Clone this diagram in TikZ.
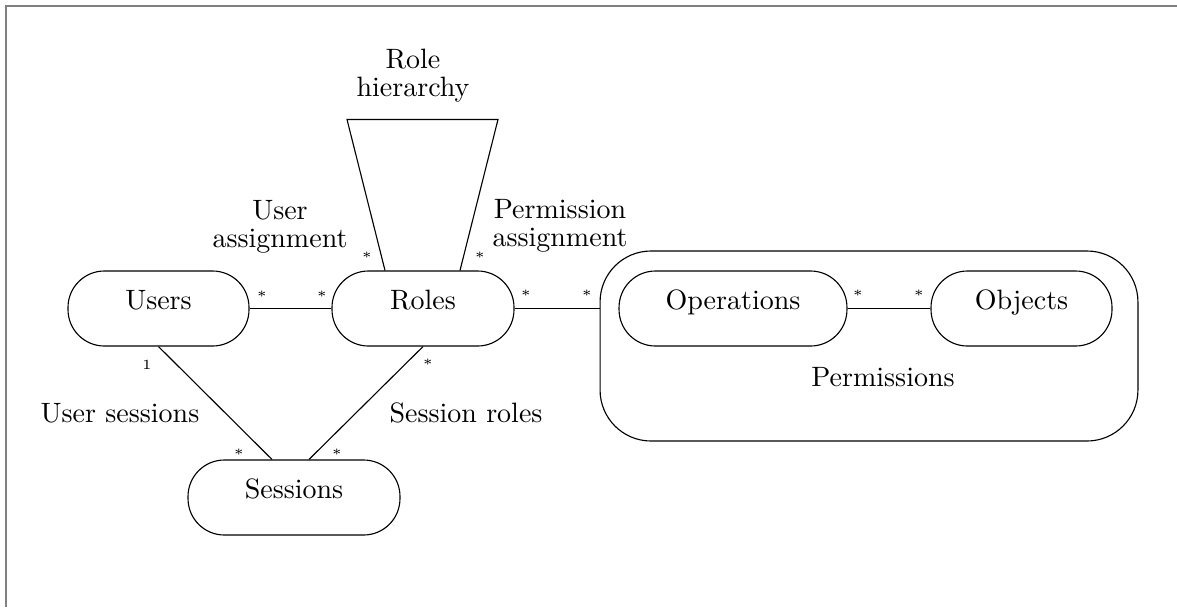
\documentclass[tikz,border=0pt]{standalone}
\usetikzlibrary{calc}
\begin{document}
\begin{tikzpicture}[x=0.35714pt,y=-0.35714pt,
  box/.style={draw, rounded corners=13pt, text height=7pt, text depth=6pt, inner sep=0pt, minimum height=26.79pt},
  lbl/.style={font=\fontsize{10}{10}\selectfont, align=center, anchor=base, inner sep=0pt},
  mult/.style={font=\tiny, inner sep=0pt},
  frame/.style={gray, line width=0.7pt}]
\useasboundingbox (0,0) rectangle (1177,607);
\coordinate (ftr) at (1177,6);
\coordinate (ftl) at (6,6);
\coordinate (fbl) at (6,607);
\draw[frame] (ftr) -- (ftl) -- (fbl);

% outer permissions box
\node[draw, rounded corners=18.2pt, minimum width=192.1pt, minimum height=67.86pt, inner sep=0pt] (perm) at (869,346) {};
\node[lbl] (permlbl) at (883,386) {Permissions};

% main boxes
\node[box, minimum width=64.64pt] (users) at (158.5,308.5) {Users};
\node[box, minimum width=65pt] (roles) at (423,308.5) {Roles};
\node[box, minimum width=75.7pt] (sessions) at (294,497.5) {Sessions};
\node[box, minimum width=81.4pt] (ops) at (733,308.5) {Operations};
\node[box, minimum width=64.64pt] (objs) at (1021.5,308.5) {Objects};

% connectors
\draw (users) -- (roles);
\draw (roles.east) -- (roles.east -| perm.west);
\draw (ops) -- (objs);
\draw (users.south) -- ($(sessions.north)+(-22,0)$);
\draw (roles.south) -- ($(sessions.north)+(15,0)$);
\draw ($(roles.north)+(-38,0)$) -- ++(-38,-151) -- ++(151,0) -- ($(roles.north)+(37,0)$);

% labels
\node[lbl] (rh) at (413,96) {Role\\hierarchy};
\node[lbl] (ua) at (280,247) {User\\assignment};
\node[lbl] (pa) at (560,246) {Permission\\assignment};
\node[lbl] (us) at (120,422) {User sessions};
\node[lbl] (sr) at (466,422) {Session roles};

% multiplicities
\node[mult] (m1) at (262,296) {*};
\node[mult] (m2) at (322,296) {*};
\node[mult] (m3) at (526,295) {*};
\node[mult] (m4) at (587,295) {*};
\node[mult] (m5) at (858,295) {*};
\node[mult] (m6) at (919,295) {*};
\node[mult] (m7) at (367,257) {*};
\node[mult] (m8) at (480,257) {*};
\node[mult] (m9) at (147,365) {1};
\node[mult] (m10) at (428,364) {*};
\node[mult] (m11) at (239,454) {*};
\node[mult] (m12) at (337,454) {*};
\end{tikzpicture}
\end{document}
